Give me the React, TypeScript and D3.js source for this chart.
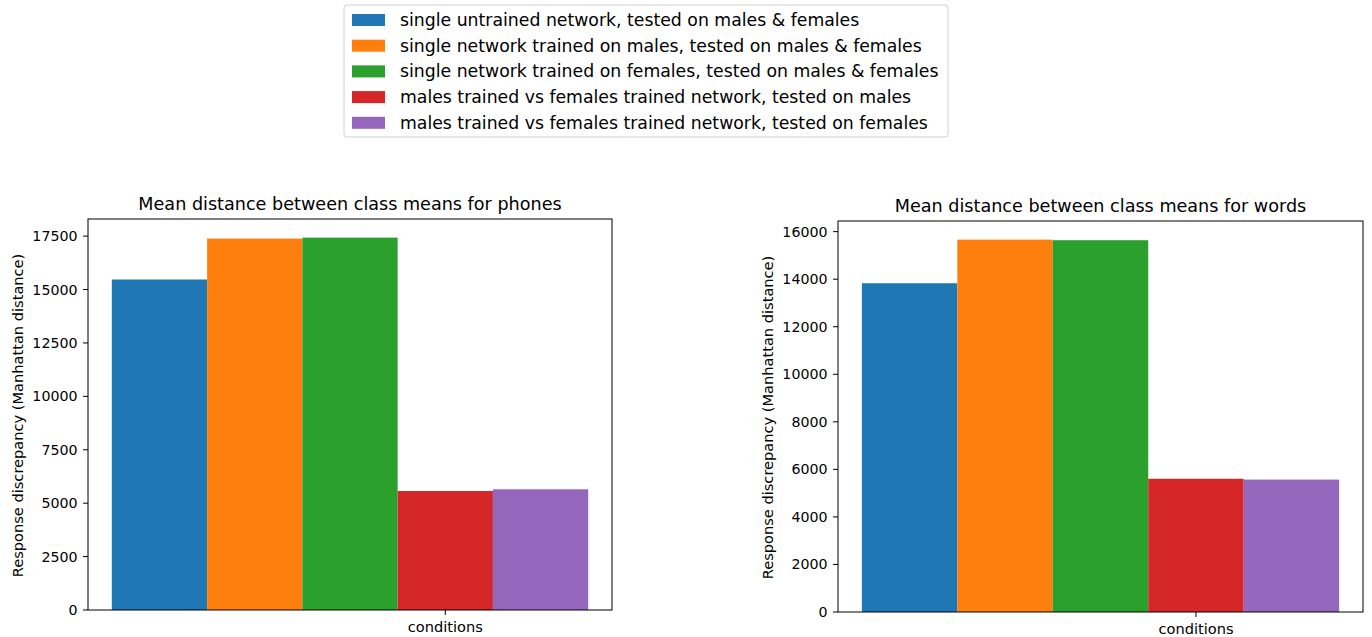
import React from "react";
import * as d3 from "d3";

// Series labels (one bar per condition) and colours
const seriesLabels = [
  "single untrained network, tested on males & females",
  "single network trained on males, tested on males & females",
  "single network trained on females, tested on males & females",
  "males trained vs females trained network, tested on males",
  "males trained vs females trained network, tested on females",
];
const seriesColors = ["#1f77b4", "#ff7f0e", "#2ca02c", "#d62728", "#9467bd"];

// Mean distance values per panel
const phonesValues = [15470, 17385, 17430, 5570, 5650];
const wordsValues = [13830, 15665, 15640, 5605, 5570];

// Tick labels per panel
const phonesTicks = [0, 2500, 5000, 7500, 10000, 12500, 15000, 17500];
const wordsTicks = [0, 2000, 4000, 6000, 8000, 10000, 12000, 14000, 16000];

const xTickLabel = "conditions";
const yAxisLabel = "Response discrepancy (Manhattan distance)";
const titles = [
  "Mean distance between class means for phones",
  "Mean distance between class means for words",
];

const FONT = "DejaVu Sans, Verdana, sans-serif";
const TICK_FS = 14.2;
const LABEL_FS = 14.6;
const TITLE_FS = 17.6;
const LEGEND_FS = 17.3;

type PanelProps = {
  left: number;
  top: number;
  width: number;
  height: number;
  values: number[];
  ticks: number[];
  title: string;
};

function Panel({ left, top, width, height, values, ticks, title }: PanelProps) {
  const n = values.length;
  const pad = 0.05 * n;
  const x = d3.scaleLinear().domain([-pad, n + pad]).range([0, width]);
  const yMax = (d3.max(values) as number) * 1.05;
  const y = d3.scaleLinear().domain([0, yMax]).range([height, 0]);
  const tickX = 3.5;

  return (
    <g transform={`translate(${left},${top})`}>
      {values.map((v, i) => (
        <rect
          key={i}
          x={x(i)}
          y={y(v)}
          width={x(i + 1) - x(i)}
          height={height - y(v)}
          fill={seriesColors[i]}
        />
      ))}
      <rect x={0} y={0} width={width} height={height} fill="none" stroke="#000" strokeWidth={1} />
      {ticks.map((t) => (
        <g key={t} transform={`translate(0,${y(t)})`}>
          <line x1={-5} x2={0} stroke="#000" strokeWidth={1} />
          <text x={-10.5} dy="0.35em" textAnchor="end" fontSize={TICK_FS} fontFamily={FONT} fill="#000">
            {t}
          </text>
        </g>
      ))}
      <g transform={`translate(${x(tickX)},${height})`}>
        <line y1={0} y2={5} stroke="#000" strokeWidth={1} />
        <text y={22} textAnchor="middle" fontSize={LABEL_FS} fontFamily={FONT} fill="#000">
          {xTickLabel}
        </text>
      </g>
      <text
        x={width / 2}
        y={-9}
        textAnchor="middle"
        fontSize={TITLE_FS}
        fontFamily={FONT}
        fill="#000"
      >
        {title}
      </text>
      <text
        transform={`translate(${-65},${height / 2 + 1}) rotate(-90)`}
        textAnchor="middle"
        fontSize={LABEL_FS}
        fontFamily={FONT}
        fill="#000"
      >
        {yAxisLabel}
      </text>
    </g>
  );
}

function Legend({ left, top }: { left: number; top: number }) {
  const rowH = 25.7;
  return (
    <g transform={`translate(${left},${top})`}>
      <rect x={0} y={0} width={604} height={132} rx={3} fill="#fff" stroke="#d0d0d0" strokeWidth={1} />
      {seriesLabels.map((label, i) => (
        <g key={i} transform={`translate(0,${15 + i * rowH})`}>
          <rect x={8} y={-6} width={33} height={12} fill={seriesColors[i]} />
          <text x={56} dy="0.35em" fontSize={LEGEND_FS} fontFamily={FONT} fill="#000">
            {label}
          </text>
        </g>
      ))}
    </g>
  );
}

export default function App() {
  return (
    <svg
      width={1372}
      height={637}
      style={{ position: "absolute", left: 0, top: 0, background: "#fff" }}
    >
      <rect width={1372} height={637} fill="#fff" />
      <Legend left={344} top={5} />
      <Panel
        left={88}
        top={219}
        width={524}
        height={391}
        values={phonesValues}
        ticks={phonesTicks}
        title={titles[0]}
      />
      <Panel
        left={838}
        top={221}
        width={525}
        height={391}
        values={wordsValues}
        ticks={wordsTicks}
        title={titles[1]}
      />
    </svg>
  );
}
